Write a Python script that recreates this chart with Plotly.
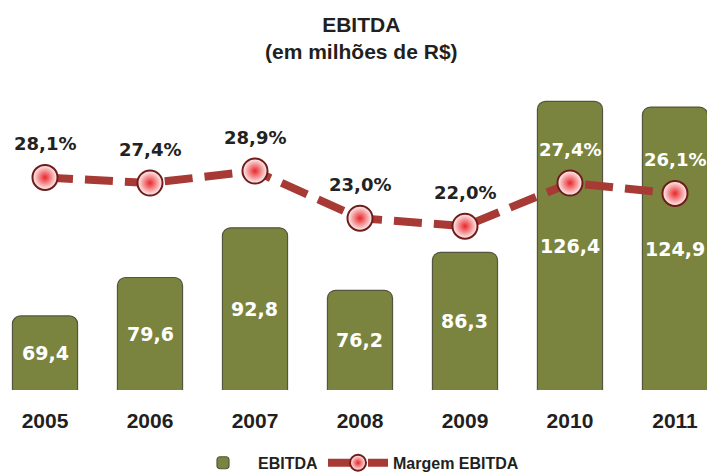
import plotly.graph_objects as go

years = ["2005", "2006", "2007", "2008", "2009", "2010", "2011"]
ebitda = [69.4, 79.6, 92.8, 76.2, 86.3, 126.4, 124.9]
margem = [28.1, 27.4, 28.9, 23.0, 22.0, 27.4, 26.1]
margem_label_colors = ["#222222"] * 5 + ["#ffffff"] * 2

Y_FLOOR = 49.7


def br(v, suffix=""):
    return f"{v:.1f}".replace(".", ",") + suffix


fig = go.Figure()

fig.add_trace(go.Bar(
    x=years, y=ebitda, name="EBITDA",
    width=0.62,
    marker=dict(color="#7b843e", line=dict(color="#55543f", width=1.2), cornerradius=8),
    textposition="none",
    yaxis="y",
))

fig.add_trace(go.Scatter(
    x=years, y=margem, name="Margem EBITDA",
    mode="lines+markers",
    line=dict(color="#a83a35", width=8, dash="28px,12px"),
    marker=dict(size=25, color="#fff6f6",
                gradient=dict(type="radial", color="#e8262a"),
                line=dict(color="#6e1d1a", width=2)),
    yaxis="y2",
))

for i, v in enumerate(ebitda):
    fig.add_annotation(x=i, y=(v + Y_FLOOR) / 2, xref="x", yref="y", text=br(v),
                       showarrow=False,
                       font=dict(family="DejaVu Sans", size=19, color="white", weight="bold"))

for i, (v, c) in enumerate(zip(margem, margem_label_colors)):
    fig.add_annotation(x=i, y=v, xref="x", yref="y2", text=br(v, "%"),
                       showarrow=False, yshift=34,
                       font=dict(family="DejaVu Sans", size=18, color=c, weight="bold"))

fig.add_annotation(text="EBITDA<br>(em milhões de R$)", xref="paper", yref="paper",
                   x=0.508, y=1.0, yshift=69, xanchor="center", yanchor="top",
                   showarrow=False, align="center",
                   font=dict(family="Liberation Sans", size=21, color="#231f20", weight="bold"))

fig.update_layout(
    width=712, height=473,
    margin=dict(l=5, r=5, t=80, b=83, autoexpand=False),
    paper_bgcolor="white", plot_bgcolor="white",
    xaxis=dict(type="category", range=[-0.381, 6.305], showgrid=False, zeroline=False,
               showline=False, ticks="", ticklabelstandoff=16, automargin=False,
               tickfont=dict(family="Liberation Sans", size=21, color="#231f20", weight="bold")),
    yaxis=dict(range=[Y_FLOOR, 132.1], visible=False, showgrid=False, zeroline=False),
    yaxis2=dict(range=[1.525, 40.275], overlaying="y", visible=False,
                showgrid=False, zeroline=False),
    showlegend=True,
    legend=dict(orientation="h", x=0.5, xanchor="center", y=-0.235, yanchor="middle",
                font=dict(family="Liberation Sans", size=16, color="#231f20", weight="bold"),
                itemwidth=60, tracegroupgap=0),
)

fig.write_html("out.html", config={"displayModeBar": False},
               post_script="document.body.style.margin='0';")
